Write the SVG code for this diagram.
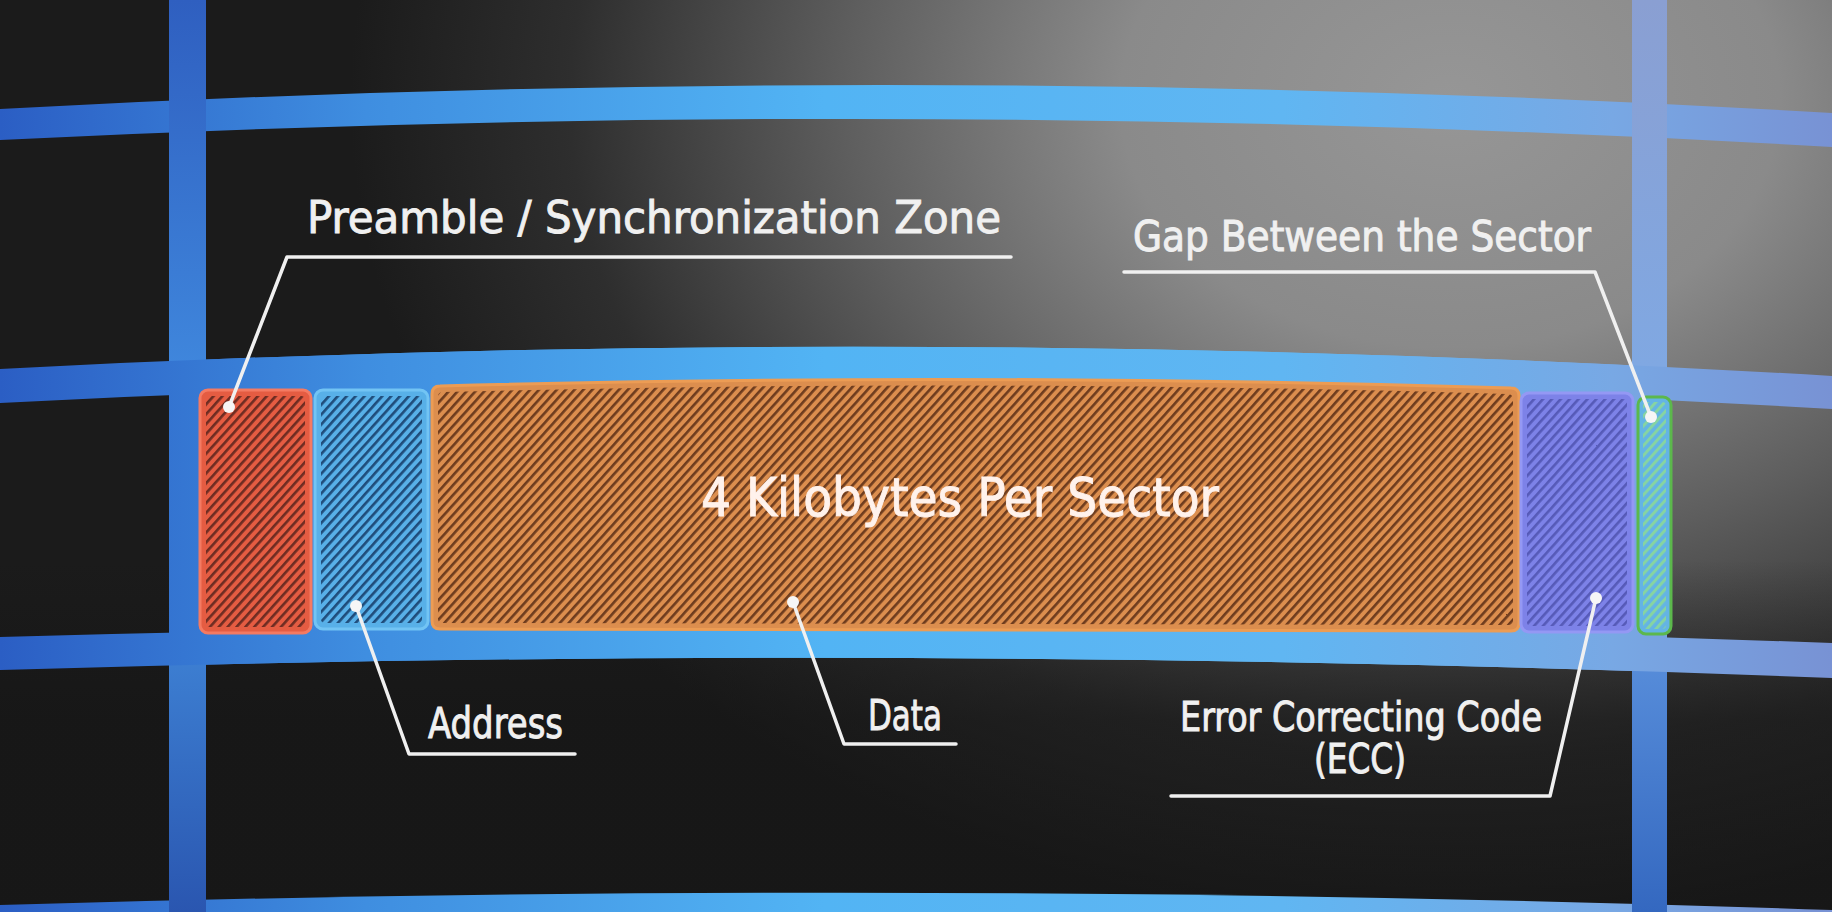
<svg xmlns="http://www.w3.org/2000/svg" width="1832" height="912" viewBox="0 0 1832 912">
<style>
.lbl{font-family:"DejaVu Sans","Liberation Sans",sans-serif;font-stretch:condensed;fill:#f0f0f0;stroke:#f0f0f0;stroke-width:0.9;font-weight:normal}
.conn{fill:none;stroke:#f0f0f0;stroke-width:3.5;stroke-linecap:round;stroke-linejoin:round}
.dot{fill:#f6f6f6}
.rim{stroke-width:3}
</style>
<defs>
<radialGradient id="bg" gradientUnits="userSpaceOnUse" cx="1450" cy="100" r="1100" gradientTransform="translate(1450,100) scale(1,0.75) translate(-1450,-100)">
<stop offset="0" stop-color="#969696"/>
<stop offset="0.3" stop-color="#8a8a8a"/>
<stop offset="0.55" stop-color="#5e5e5e"/>
<stop offset="0.8" stop-color="#2e2e2e"/>
<stop offset="1" stop-color="#1b1b1b"/>
</radialGradient>
<linearGradient id="shade" gradientUnits="userSpaceOnUse" x1="0" y1="560" x2="0" y2="720">
<stop offset="0" stop-color="#141414" stop-opacity="0"/>
<stop offset="1" stop-color="#141414" stop-opacity="0.55"/>
</linearGradient>
<linearGradient id="band" gradientUnits="userSpaceOnUse" x1="0" y1="0" x2="1832" y2="0">
<stop offset="0" stop-color="#2b5ec4"/>
<stop offset="0.2" stop-color="#3f8ee0"/>
<stop offset="0.45" stop-color="#52b4f4"/>
<stop offset="0.7" stop-color="#60b6f2"/>
<stop offset="0.88" stop-color="#78a8e4"/>
<stop offset="1" stop-color="#7892d4"/>
</linearGradient>
<linearGradient id="vl" x1="0" y1="0" x2="0" y2="1">
<stop offset="0" stop-color="#2f5fc0"/>
<stop offset="0.4" stop-color="#3f86dc"/>
<stop offset="0.6" stop-color="#4590e0"/>
<stop offset="1" stop-color="#2a56b0"/>
</linearGradient>
<linearGradient id="vr" x1="0" y1="0" x2="0" y2="1">
<stop offset="0" stop-color="#8a9fd2"/>
<stop offset="0.4" stop-color="#80a8e2"/>
<stop offset="0.7" stop-color="#5a90dc"/>
<stop offset="1" stop-color="#3468c0"/>
</linearGradient>
<clipPath id="rowclip"><rect x="169" y="0" width="1498" height="912"/></clipPath>
<pattern id="hR" patternUnits="userSpaceOnUse" width="8" height="6.6" patternTransform="rotate(-48)"><rect width="8" height="6.6" fill="#e55c42"/><rect width="8" height="2.6" fill="#6e2c22"/></pattern>
<pattern id="hB" patternUnits="userSpaceOnUse" width="8" height="6.6" patternTransform="rotate(-48)"><rect width="8" height="6.6" fill="#58b0e8"/><rect width="8" height="2.6" fill="#1f4c7a"/></pattern>
<pattern id="hO" patternUnits="userSpaceOnUse" width="8" height="6.6" patternTransform="rotate(-48)"><rect width="8" height="6.6" fill="#dc8e4e"/><rect width="8" height="2.6" fill="#6e3c1e"/></pattern>
<pattern id="hP" patternUnits="userSpaceOnUse" width="8" height="6.6" patternTransform="rotate(-48)"><rect width="8" height="6.6" fill="#7d82e8"/><rect width="8" height="2.6" fill="#565ab8"/></pattern>
<pattern id="hG" patternUnits="userSpaceOnUse" width="8" height="6.6" patternTransform="rotate(-48)"><rect width="8" height="6.6" fill="#64b4e4"/><rect width="8" height="3" fill="#86d4a2"/></pattern>
</defs>

<g id="background">
<rect width="1832" height="912" fill="url(#bg)"/>
<rect y="560" width="1832" height="352" fill="url(#shade)"/>
<path d="M0,109 Q916,59 1832,113 L1832,147 Q916,94.5 0,140 Z" fill="url(#band)"/>
<path d="M0,369 Q916,321 1832,376 L1832,409 Q916,356 0,403 Z" fill="url(#band)"/>
<path d="M0,637 Q916,610 1832,643 L1832,678 Q916,642 0,670 Z" fill="url(#band)"/>
<path d="M0,905 Q916,878 1832,910 L1832,930 L0,930 Z" fill="url(#band)"/>
<rect x="169" y="0" width="37" height="912" fill="url(#vl)"/>
<rect x="1632" y="0" width="35" height="912" fill="url(#vr)"/>
<path clip-path="url(#rowclip)" d="M0,369 Q916,321 1832,376 L1832,678 Q916,642 0,670 Z" fill="url(#band)"/>
</g>

<g id="preamble">
<rect class="rim" x="200" y="390" width="111" height="243" rx="8" fill="#e55c42" stroke="#f47a62"/>
<rect x="206" y="396" width="99" height="231" rx="4" fill="url(#hR)"/>
<text class="lbl" x="307" y="233" font-size="45" textLength="694" lengthAdjust="spacingAndGlyphs">Preamble / Synchronization Zone</text>
</g>

<g id="address">
<rect class="rim" x="315" y="390" width="113" height="239" rx="8" fill="#58b0e8" stroke="#72c4f4"/>
<rect x="321" y="396" width="101" height="227" rx="4" fill="url(#hB)"/>
<text class="lbl" x="428" y="738" font-size="43" textLength="135" lengthAdjust="spacingAndGlyphs">Address</text>
</g>

<g id="data">
<path class="rim" d="M432,394 Q432,386 440,386 Q975,372 1511,388 Q1519,388 1519,396 L1519,623 Q1519,631 1511,631 L440,629 Q432,629 432,621 Z" fill="#dc8e4e" stroke="#ec9c54"/>
<path d="M438,396 Q438,392 444,392 Q975,378 1507,394 Q1513,394 1513,399 L1513,621 Q1513,625 1508,625 L443,623 Q438,623 438,619 Z" fill="url(#hO)"/>
<text class="lbl" x="701" y="516" font-size="53" textLength="518" lengthAdjust="spacingAndGlyphs" style="fill:#fff2ec;stroke:#fff2ec">4 Kilobytes Per Sector</text>
<text class="lbl" x="868" y="730" font-size="43" textLength="74" lengthAdjust="spacingAndGlyphs">Data</text>
</g>

<g id="ecc">
<rect class="rim" x="1521" y="393" width="112" height="239" rx="8" fill="#7d82e8" stroke="#9498f4"/>
<rect x="1527" y="399" width="100" height="227" rx="4" fill="url(#hP)"/>
<text class="lbl" x="1180" y="731" font-size="40" textLength="362" lengthAdjust="spacingAndGlyphs">Error Correcting Code</text>
<text class="lbl" x="1314" y="773" font-size="40" textLength="92" lengthAdjust="spacingAndGlyphs">(ECC)</text>
</g>

<g id="gap">
<rect class="rim" x="1638" y="397" width="33" height="237" rx="8" fill="#64b4e4" stroke="#5cb84c"/>
<rect x="1643" y="402" width="23" height="227" rx="4" fill="url(#hG)"/>
<text class="lbl" x="1133" y="251" font-size="43" textLength="458" lengthAdjust="spacingAndGlyphs">Gap Between the Sector</text>
</g>

<g id="connectors">
<polyline class="conn" points="1011,257 287,257 229,407"/>
<circle class="dot" cx="229" cy="407" r="6"/>
<polyline class="conn" points="1124,272 1595,272 1651,417"/>
<circle class="dot" cx="1651" cy="417" r="6"/>
<polyline class="conn" points="356,606 409,754 575,754"/>
<circle class="dot" cx="356" cy="606" r="6"/>
<polyline class="conn" points="793,602 844,744 956,744"/>
<circle class="dot" cx="793" cy="602" r="6"/>
<polyline class="conn" points="1596,598 1550,796 1171,796"/>
<circle class="dot" cx="1596" cy="598" r="6"/>
</g>
</svg>
